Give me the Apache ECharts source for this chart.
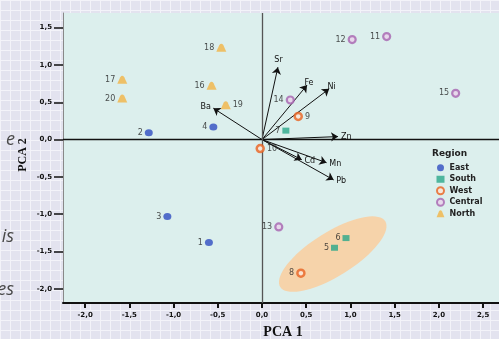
<!DOCTYPE html>
<html><head><meta charset="utf-8">
<script src="https://cdn.jsdelivr.net/npm/echarts@6/dist/echarts.min.js"></script>
<style>
html,body{margin:0;padding:0;}
#c{width:499px;height:339px;background-color:#e3e3ef;
background-image:linear-gradient(#f3f3f9 1px,transparent 1px),linear-gradient(90deg,#f3f3f9 1px,transparent 1px);
background-size:10px 10px;}
</style></head>
<body><div id="c"></div>
<script>
const regions = ['East','South','West','Central','North'];
const sampleIds = [1,2,3,4,5,6,7,8,9,10,11,12,13,14,15,16,17,18,19,20];
const sampleRegion = ['East','East','East','East','South','South','South','West','West','West','Central','Central','Central','Central','Central','North','North','North','North','North'];
const pc1 = [-0.60,-1.28,-1.07,-0.55,0.82,0.95,0.27,0.44,0.41,-0.02,1.41,1.02,0.19,0.32,2.19,-0.57,-1.58,-0.46,-0.41,-1.58];
const pc2 = [-1.38,0.09,-1.03,0.17,-1.45,-1.32,0.12,-1.79,0.31,-0.12,1.38,1.34,-1.17,0.53,0.62,0.72,0.80,1.23,0.46,0.55];
const labelRight = [9,10,19];
const loadingNames = ['Sr','Fe','Ni','Ba','Zn','Cd','Mn','Pb'];
const loadingX = [0.18,0.51,0.76,-0.55,0.86,0.45,0.73,0.81];
const loadingY = [0.97,0.73,0.68,0.42,0.04,-0.27,-0.31,-0.54];
const ellipseCenter = [0.80,-1.535];
const ellipseRadii = [0.70,0.295];
const ellipseAngleDeg = 32;
const xTicks = [-2,-1.5,-1,-0.5,0,0.5,1,1.5,2,2.5];
const yTicks = [-2,-1.5,-1,-0.5,0,0.5,1,1.5];

const fmt = v => (Math.round(v*10)/10).toFixed(1).replace('.', ',');
const symbols = {
  East: 'circle',
  South: 'rect',
  West: 'circle',
  Central: 'circle',
  North: 'path://M0,10 L3,2.5 Q5,-0.5 7,2.5 L10,10 Z'
};
const sizes = {East:[8,7],South:[7,6],West:[7,7],Central:[7,7],North:[10,8]};
const itemStyles = {
  East:{color:'#2f4cc0'},
  South:{color:'#2aa88a'},
  West:{color:'#fbe6d8',borderColor:'#e8621f',borderWidth:2.5},
  Central:{color:'#ead2ea',borderColor:'#a664b0',borderWidth:2.2},
  North:{color:'#f3b445'}
};

const chart = echarts.init(document.getElementById('c'),null,{renderer:'canvas'});
const pointSeries = regions.map(r => ({
  name: r, type:'scatter', z:5,
  symbol: symbols[r], symbolSize: sizes[r],
  itemStyle: itemStyles[r],
  data: sampleIds.map((id,i)=>({id,i})).filter(o=>sampleRegion[o.i]===r).map(o=>({
    value:[pc1[o.i],pc2[o.i]], name:String(o.id),
    label:{position: labelRight.includes(o.id)?'right':'left', distance:2}
  })),
  label:{show:true, formatter:'{b}', fontSize:8, color:'#222', fontFamily:'DejaVu Sans'}
}));

const option = {
  animation:false,
  backgroundColor:'transparent',
  grid:{left:63,top:13,right:0,bottom:36,show:true,backgroundColor:'#dcefed',borderWidth:0},
  xAxis:{type:'value',min:-2.25,max:2.68,
    splitLine:{show:false},
    axisLine:{show:true,onZero:false,lineStyle:{color:'#111',width:2}},
    axisTick:{show:true,customValues:xTicks,length:5,lineStyle:{color:'#111',width:2}},
    axisLabel:{customValues:xTicks,formatter:fmt,fontSize:7,fontWeight:'bold',color:'#111',margin:9,fontFamily:'DejaVu Sans'}
  },
  yAxis:{type:'value',min:-2.19,max:1.696,
    splitLine:{show:false},
    axisLine:{show:true,onZero:false,lineStyle:{color:'#888',width:1}},
    axisTick:{show:true,customValues:yTicks,length:9,lineStyle:{color:'#111',width:1.5}},
    axisLabel:{customValues:yTicks,formatter:fmt,fontSize:7,fontWeight:'bold',color:'#111',margin:11,fontFamily:'DejaVu Sans'}
  },
  legend:{orient:'vertical',left:431,top:158,itemWidth:8,itemHeight:7,itemGap:2,
    data:regions,textStyle:{fontSize:8,fontWeight:'bold',color:'#222',fontFamily:'DejaVu Sans',padding:[0,0,0,0],lineHeight:9.5}},
  graphic:[
    {type:'text',left:432,top:149,style:{text:'Region',fontSize:9,fontWeight:'bold',fill:'#222',fontFamily:'DejaVu Sans'}},
    {type:'text',x:23,y:155,rotation:Math.PI/2,style:{text:'PCA 2',fontSize:12,fontWeight:'bold',fill:'#111',fontFamily:'Liberation Serif',align:'center',verticalAlign:'middle'}},
    {type:'text',x:283,y:332,style:{text:'PCA 1',fontSize:14,fontWeight:'bold',fill:'#111',fontFamily:'Liberation Serif',align:'center',verticalAlign:'middle'}},
    {type:'text',x:15,y:140,style:{text:'e',fontSize:18,fontStyle:'italic',fill:'#4a4a4a',fontFamily:'Open Sans',align:'right',verticalAlign:'middle'}},
    {type:'text',x:14,y:237,style:{text:'is',fontSize:18,fontStyle:'italic',fill:'#4a4a4a',fontFamily:'Open Sans',align:'right',verticalAlign:'middle'}},
    {type:'text',x:14,y:290,style:{text:'es',fontSize:18,fontStyle:'italic',fill:'#4a4a4a',fontFamily:'Open Sans',align:'right',verticalAlign:'middle'}}
  ],
  series:[
    {type:'custom',z:1,silent:true,data:[ellipseCenter],
     renderItem:function(params,api){
       const c = api.coord([api.value(0),api.value(1)]);
       const s = api.size([1,1]);
       const a = ellipseRadii[0]*s[0], b = ellipseRadii[1]*s[1];
       const th = ellipseAngleDeg*Math.PI/180;
       const pts=[];
       for(let k=0;k<72;k++){const t=k/72*Math.PI*2;
         pts.push([c[0]+a*Math.cos(t)*Math.cos(th)-b*Math.sin(t)*Math.sin(th),
                   c[1]-(a*Math.cos(t)*Math.sin(th)+b*Math.sin(t)*Math.cos(th))]);}
       return {type:'polygon',shape:{points:pts,smooth:0},style:{fill:'#f6d3aa'}};
     }},
    {type:'scatter',data:[],z:2,silent:true,
     markLine:{silent:true,symbol:'none',label:{show:false},animation:false,
       data:[{yAxis:0,lineStyle:{color:'#111',width:1.3,type:'solid'}},
             {xAxis:0,lineStyle:{color:'#555',width:1.3,type:'solid'}}]}},
    {type:'lines',coordinateSystem:'cartesian2d',z:3,silent:true,
     symbol:['none','arrow'],symbolSize:7,
     lineStyle:{color:'#111',width:1,opacity:1},
     label:{show:true,position:'end',formatter:'{b}',fontSize:8,color:'#111',fontFamily:'DejaVu Sans',distance:3},
     data:loadingNames.map((n,i)=>({name:n,coords:[[0,0],[loadingX[i],loadingY[i]]]}))},
    ...pointSeries
  ]
};
chart.setOption(option);
</script></body></html>
